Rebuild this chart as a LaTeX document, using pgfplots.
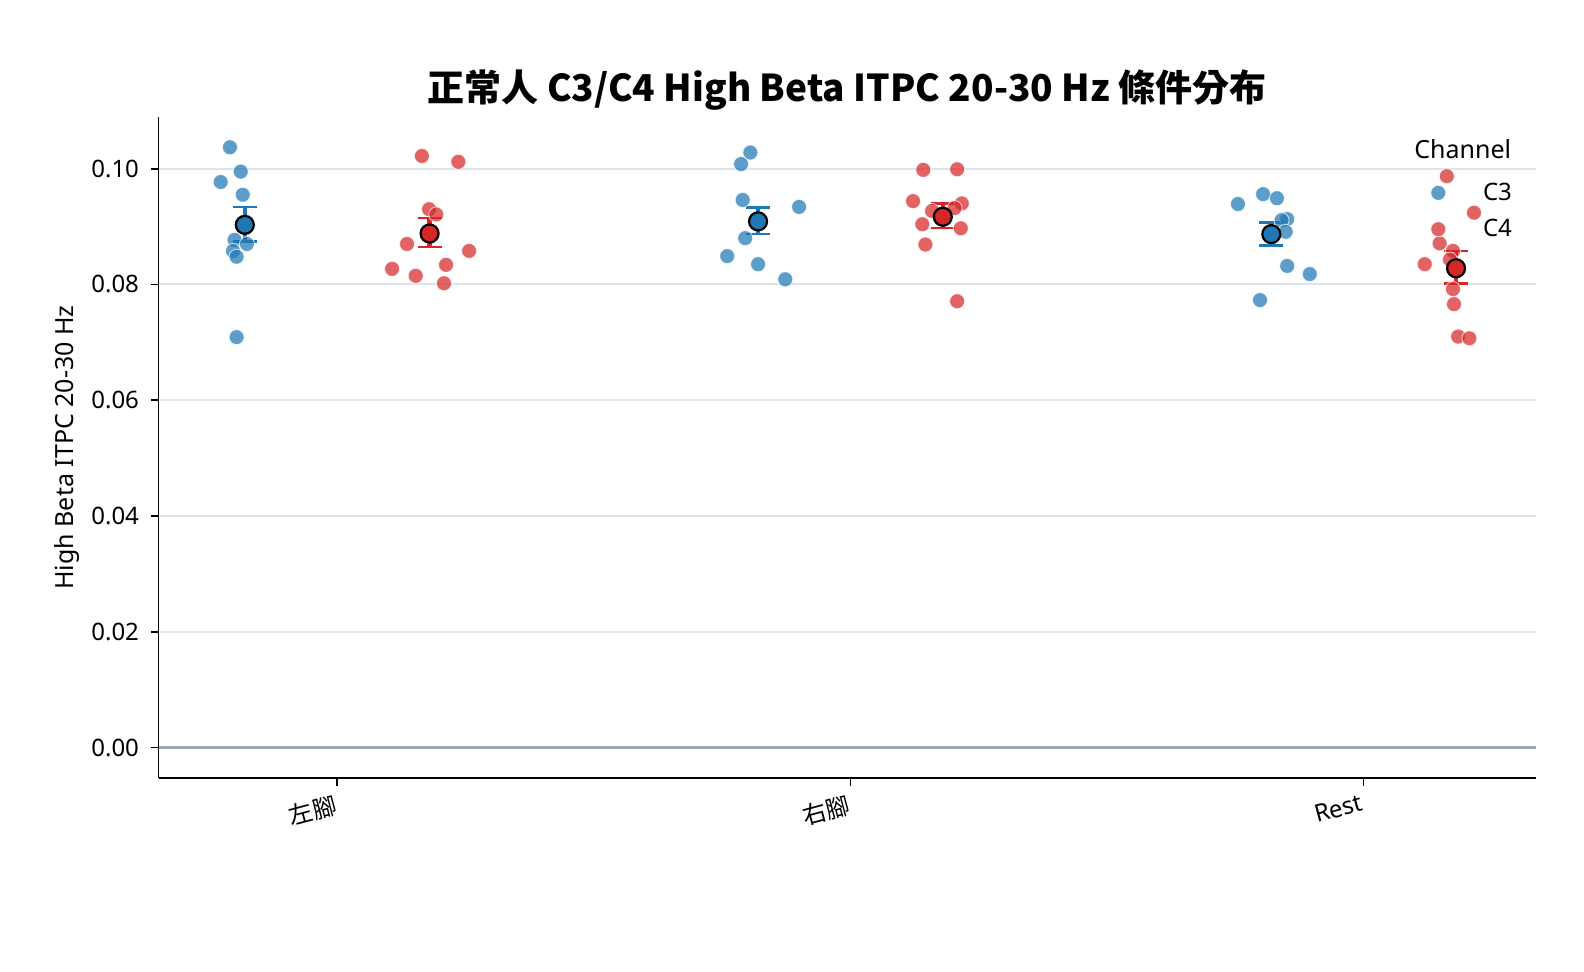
\documentclass[border=0pt]{standalone}
\usepackage{fontspec}
\setmainfont{Noto Sans}
\newfontfamily\cjk{Noto Sans CJK TC}
\usepackage{pgfplots}
\usepackage{pgfplotstable}
\pgfplotsset{compat=1.18}
\definecolor{c3}{HTML}{1F77B4}
\definecolor{c4}{HTML}{D62728}
\definecolor{gridc}{HTML}{DCE4EE}
\definecolor{zeroc}{HTML}{9EA8B6}

\pgfplotstableread{
x y
-0.209 0.1037
-0.188 0.0995
-0.227 0.0977
-0.184 0.0955
-0.200 0.0877
-0.176 0.0870
-0.203 0.0858
-0.196 0.0848
-0.196 0.0709
0.805 0.1028
0.787 0.1008
0.790 0.0946
0.900 0.0934
0.795 0.0880
0.760 0.0849
0.820 0.0835
0.873 0.0809
1.755 0.0939
1.804 0.0956
1.831 0.0949
1.851 0.0913
1.840 0.0911
1.848 0.0891
1.851 0.0832
1.895 0.0818
1.798 0.0773
}\cthreepts

\pgfplotstableread{
x y
0.165 0.1022
0.236 0.1012
0.179 0.0930
0.193 0.0921
0.136 0.0870
0.257 0.0858
0.107 0.0827
0.212 0.0834
0.153 0.0815
0.208 0.0802
1.142 0.0998
1.208 0.0999
1.122 0.0944
1.217 0.0940
1.159 0.0927
1.203 0.0932
1.140 0.0904
1.215 0.0897
1.146 0.0869
1.208 0.0771
2.162 0.0987
2.215 0.0924
2.148 0.0871
2.174 0.0858
2.119 0.0835
2.168 0.0843
2.174 0.0792
2.176 0.0766
2.184 0.0710
2.206 0.0707
}\cfourpts

\pgfplotstableread{
x y ep em
-0.18 0.0903 0.0031 0.0029
0.82 0.0909 0.0024 0.0022
1.82 0.0887 0.0020 0.0020
}\cthreemean

\pgfplotstableread{
x y ep em
0.18 0.0888 0.0027 0.0023
1.18 0.0917 0.0023 0.0019
2.18 0.0828 0.0030 0.0026
}\cfourmean

\begin{document}
\begin{tikzpicture}
\path[use as bounding box] (0bp,0bp) rectangle (792bp,486bp);
\begin{axis}[
  at={(79.3bp,97.05bp)}, anchor=south west,
  width=688.5bp, height=330.35bp, scale only axis,
  xmin=-0.348, xmax=2.335, ymin=-0.00525, ymax=0.1089,
  axis x line*=bottom, axis y line*=left,
  axis line style={line width=0.8bp, black},
  tick align=outside, major tick length=4bp,
  tick style={line width=0.8bp, black},
  xtick={0,1,2}, xticklabels={{\cjk 左腳},{\cjk 右腳},Rest},
  x tick label style={yshift=-2.5bp, xshift=-1.2bp, rotate=15, anchor=north east, font=\fontsize{12bp}{14bp}\selectfont, inner sep=1bp},
  ytick={0,0.02,0.04,0.06,0.08,0.10},
  yticklabel style={/pgf/number format/fixed, /pgf/number format/fixed zerofill, /pgf/number format/precision=2, font=\fontsize{12bp}{14bp}\selectfont, xshift=-2.3bp},
  /pgf/number format/assume math mode=true,
  scaled y ticks=false,
  ymajorgrids, major grid style={gridc, line width=1bp},
  ylabel={High Beta ITPC 20-30 Hz},
  ylabel style={at={(axis description cs:-0.0665,0.5)}, anchor=center, font=\fontsize{12.5bp}{15bp}\selectfont},
  title={{\cjk\bfseries 正常人 C3/C4 High Beta ITPC 20-30 Hz 條件分布}},
  title style={at={(axis description cs:0.5,1.0062)}, anchor=base, yshift=0pt, font=\fontsize{18.5bp}{22bp}\selectfont},
  legend cell align=left,
  legend image code/.code={\draw[#1] plot coordinates {(0bp,0bp)};},
  legend style={draw=none, fill=none, inner sep=0pt, at={(axis description cs:0.9236,0.9015)}, anchor=north west,
    font=\fontsize{12bp}{14bp}\selectfont, nodes={inner sep=0pt}, row sep=8bp,
    /tikz/every odd column/.append style={column sep=18.6bp}},
  clip=false,
]
\addplot[forget plot, zeroc, line width=1.2bp] coordinates {(-0.348,0) (2.335,0)};
\addplot[only marks, mark=*, mark size=3.75bp, mark options={fill=c3, draw=white, line width=0.4bp, opacity=0.72}] table[x=x,y=y] {\cthreepts};
\addlegendentry{C3}
\addplot[only marks, mark=*, mark size=3.75bp, mark options={fill=c4, draw=white, line width=0.4bp, opacity=0.72}] table[x=x,y=y] {\cfourpts};
\addlegendentry{C4}
\addplot[forget plot, only marks, mark=none, error bars/.cd, y dir=both, y explicit,
  error bar style={c3, line width=2.2bp}, error mark=-, error mark options={rotate=90, c3, mark size=6bp, line width=1.2bp}]
  table[x=x,y=y,y error plus=ep,y error minus=em] {\cthreemean};
\addplot[forget plot, only marks, mark=none, error bars/.cd, y dir=both, y explicit,
  error bar style={c4, line width=2.2bp}, error mark=-, error mark options={rotate=90, c4, mark size=6bp, line width=1.2bp}]
  table[x=x,y=y,y error plus=ep,y error minus=em] {\cfourmean};
\addplot[forget plot, only marks, mark=*, mark size=4.5bp, mark options={fill=c3, draw=black, line width=1.1bp}] table[x=x,y=y] {\cthreemean};
\addplot[forget plot, only marks, mark=*, mark size=4.5bp, mark options={fill=c4, draw=black, line width=1.1bp}] table[x=x,y=y] {\cfourmean};
\node[font=\fontsize{12.5bp}{15bp}\selectfont, anchor=center] at (axis description cs:0.9471,0.9511) {Channel};
\end{axis}
\end{tikzpicture}
\end{document}
